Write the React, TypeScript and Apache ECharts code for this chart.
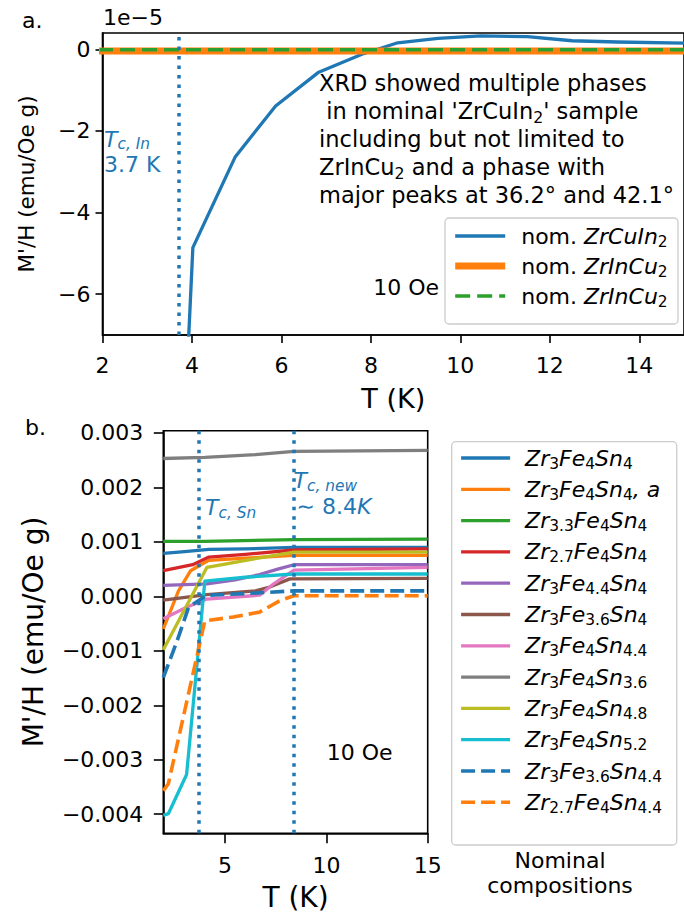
import { useEffect, useRef } from 'react';
import * as echarts from 'echarts';

const FONT = 'DejaVu Sans';
const FONT_CSS = "'DejaVu Sans', sans-serif";
const BLUE = '#1f77b4';
const ORANGE = '#ff7f0e';
const GREEN = '#2ca02c';
const RED = '#d62728';
const PURPLE = '#9467bd';
const BROWN = '#8c564b';
const PINK = '#e377c2';
const GRAY = '#7f7f7f';
const OLIVE = '#bcbd22';
const CYAN = '#17becf';

// ---- Panel a: M'/H in units of 1e-5 emu/(Oe g) versus T (K) ----
const A_T_CUIN = [3.8, 4.02, 4.97, 5.87, 6.82, 7.8, 8.6, 9.5, 10.46, 11.5, 12.5, 13.5, 15.0];
const A_M_CUIN = [-10.0, -4.86, -2.63, -1.39, -0.57, -0.12, 0.16, 0.27, 0.33, 0.31, 0.21, 0.18, 0.15];
const A_T_INCU = [1.9, 3, 4, 5, 6, 7, 8, 9, 10, 11, 12, 13, 14, 15];
const A_M_INCU_1 = [-0.04, -0.04, -0.04, -0.04, -0.04, -0.04, -0.04, -0.04, -0.04, -0.04, -0.04, -0.04, -0.04, -0.04];
const A_M_INCU_2 = [-0.01, -0.01, -0.01, -0.01, -0.01, -0.01, -0.01, -0.01, -0.01, -0.01, -0.01, -0.01, -0.01, -0.01];
const A_X_TICKS = [2, 4, 6, 8, 10, 12, 14];
const A_Y_TICKS = [-6, -4, -2, 0];
const A_TC_IN = 3.7;

// ---- Panel b: M'/H (emu/(Oe g)) versus T (K), [T, value] pairs ----
const B_ZR3FE4SN4 = [[1.95, 0.00079], [3.0, 0.00082], [4.2, 0.00086], [6.0, 0.00087], [8.4, 0.0009], [15, 0.0009]];
const B_ZR3FE4SN4_A = [[1.95, -0.0006], [2.7, 0.0001], [3.3, 0.00047], [3.8, 0.00058], [4.2, 0.00066], [6.0, 0.0007], [8.4, 0.00075], [15, 0.00075]];
const B_ZR33FE4SN4 = [[1.95, 0.00101], [4.0, 0.00101], [8.4, 0.00104], [15, 0.00105]];
const B_ZR27FE4SN4 = [[1.95, 0.00047], [3.4, 0.00058], [4.2, 0.00072], [6.0, 0.00077], [8.4, 0.00085], [15, 0.00087]];
const B_ZR3FE44SN4 = [[1.95, 0.0002], [4.1, 0.00023], [5.5, 0.0003], [6.7, 0.0004], [7.6, 0.0005], [8.4, 0.00058], [15, 0.00058]];
const B_ZR3FE36SN4 = [[1.95, -0.00007], [4.1, 0.00003], [6.5, 0.0001], [7.2, 0.00017], [8.2, 0.00032], [15, 0.00033]];
const B_ZR3FE4SN44 = [[1.95, -0.00041], [3.1, -0.0002], [4.1, -0.00005], [6.7, 0.00002], [7.4, 0.00023], [8.4, 0.00048], [15, 0.00053]];
const B_ZR3FE4SN36 = [[1.95, 0.00253], [4.0, 0.00255], [6.5, 0.0026], [8.4, 0.00266], [15, 0.00268]];
const B_ZR3FE4SN48 = [[1.95, -0.00098], [4.1, 0.00053], [6.3, 0.00068], [8.4, 0.00081], [15, 0.00081]];
const B_ZR3FE4SN52 = [[1.95, -0.00402], [2.2, -0.00399], [3.1, -0.00327], [4.0, 0.00028], [6.0, 0.00035], [8.4, 0.00041], [15, 0.00041]];
const B_ZR3FE36SN44 = [[1.95, -0.00149], [2.6, -0.00085], [3.2, -0.0002], [4.1, 0.00002], [6.0, 0.00005], [8.4, 0.0001], [15, 0.0001]];
const B_ZR27FE4SN44 = [[1.95, -0.00357], [2.2, -0.00344], [4.0, -0.00045], [5.4, -0.00038], [6.7, -0.00029], [7.7, -0.00008], [8.4, 0.00001], [15, 0.00001]];
const B_X_TICKS = [5, 10, 15];
const B_Y_TICKS = [-4, -3, -2, -1, 0, 1, 2, 3].map((k) => k / 1000);
const B_TC_SN = 3.7;
const B_TC_NEW = 8.4;

const SOLID_W = 3.3;
const DASH_W = 3.6;
const DASH = [14, 6];

// legend rich text (ECharts text style: "color")
const RICH = {
  n: { fontSize: 22, fontFamily: FONT, color: '#000', lineHeight: 26 },
  i: { fontSize: 22, fontFamily: FONT, fontStyle: 'italic', color: '#000', lineHeight: 26 },
  s: { fontSize: 15.4, fontFamily: FONT, color: '#000', lineHeight: 12.4, verticalAlign: 'bottom' },
};

// chemical formula -> rich text with italic elements and upright subscripts
function formulaRich(formula: string): string {
  const [core, suffix] = formula.split(', ');
  let out = '';
  core.replace(/([A-Z][a-z]?)([\d.]*)/g, (_m: string, el: string, n: string) => {
    out += `{i|${el}}` + (n ? `{s|${n}}` : '');
    return '';
  });
  if (suffix) out += `{i|, ${suffix}}`;
  return out;
}

const A_LABELS: Record<string, string> = {
  'ZrCuIn2': '{n|nom. }' + formulaRich('ZrCuIn2'),
  'ZrInCu2 (1)': '{n|nom. }' + formulaRich('ZrInCu2'),
  'ZrInCu2 (2)': '{n|nom. }' + formulaRich('ZrInCu2'),
};

const lineSeries = (name: string, data: number[][], color: string, width: number, grid: number, dash?: number[]) => ({
  type: 'line',
  name,
  data,
  xAxisIndex: grid,
  yAxisIndex: grid,
  symbol: 'none',
  showSymbol: false,
  silent: true,
  itemStyle: { color },
  lineStyle: { color, width, type: dash ?? 'solid', cap: 'butt', join: 'round' },
});

const dotted = (xs: number[]) => ({
  silent: true,
  symbol: ['none', 'none'],
  label: { show: false },
  lineStyle: { color: BLUE, width: 3.5, type: [3.5, 6], cap: 'butt' },
  data: xs.map((x) => ({ xAxis: x })),
});

const pairs = (xs: number[], ys: number[]) => xs.map((x, i) => [x, ys[i]]);
const minus = (s: string) => s.replace('-', '\u2212');

const axisBase = (labelMargin: number, tickLen: number, ticks: number[], fmt: (v: number) => string) => ({
  type: 'value',
  axisLine: { show: true, onZero: false, lineStyle: { color: '#000', width: 1.6 } },
  splitLine: { show: false },
  axisTick: { show: true, inside: false, length: tickLen, customValues: ticks, lineStyle: { color: '#000', width: 1.6 } },
  axisLabel: { color: '#000', fontSize: 22, fontFamily: FONT_CSS, margin: labelMargin, customValues: ticks, formatter: fmt },
});

const B_SERIES: [string, number[][], string, number[] | undefined][] = [
  ['Zr3Fe4Sn4', B_ZR3FE4SN4, BLUE, undefined],
  ['Zr3Fe4Sn4, a', B_ZR3FE4SN4_A, ORANGE, undefined],
  ['Zr3.3Fe4Sn4', B_ZR33FE4SN4, GREEN, undefined],
  ['Zr2.7Fe4Sn4', B_ZR27FE4SN4, RED, undefined],
  ['Zr3Fe4.4Sn4', B_ZR3FE44SN4, PURPLE, undefined],
  ['Zr3Fe3.6Sn4', B_ZR3FE36SN4, BROWN, undefined],
  ['Zr3Fe4Sn4.4', B_ZR3FE4SN44, PINK, undefined],
  ['Zr3Fe4Sn3.6', B_ZR3FE4SN36, GRAY, undefined],
  ['Zr3Fe4Sn4.8', B_ZR3FE4SN48, OLIVE, undefined],
  ['Zr3Fe4Sn5.2', B_ZR3FE4SN52, CYAN, undefined],
  ['Zr3Fe3.6Sn4.4', B_ZR3FE36SN44, BLUE, DASH],
  ['Zr2.7Fe4Sn4.4', B_ZR27FE4SN44, ORANGE, DASH],
];

const textEl = (x: number, y: number, style: Record<string, unknown>) => ({
  type: 'text',
  x,
  y,
  z: 10,
  silent: true,
  style: { fontFamily: FONT, fontSize: 22, fill: '#000', align: 'left', verticalAlign: 'middle', ...style },
});

// graphic rich text (zrender style: "fill")
const tcRich = (lh: number, subLh: number) => ({
  t: { fontSize: 22, fontFamily: FONT, fontStyle: 'italic', fill: BLUE, lineHeight: lh },
  u: { fontSize: 22, fontFamily: FONT, fill: BLUE, lineHeight: lh },
  p: { fontSize: 22, fontFamily: FONT, fill: BLUE, lineHeight: lh, padding: [0, 0, 0, 3] },
  c: { fontSize: 15.4, fontFamily: FONT, fontStyle: 'italic', fill: BLUE, lineHeight: subLh, verticalAlign: 'bottom' },
});

const NOTE_RICH = {
  n: { fontSize: 22.5, fontFamily: FONT, fill: '#000', lineHeight: 28.15 },
  s: { fontSize: 15.75, fontFamily: FONT, fill: '#000', lineHeight: 17, verticalAlign: 'bottom' },
};

const option = {
  animation: false,
  backgroundColor: '#fff',
  textStyle: { fontFamily: FONT },
  grid: [
    { left: 102.5, top: 33, width: 585, height: 302, show: true, borderColor: '#000', borderWidth: 1.6, backgroundColor: 'transparent' },
    { left: 163.3, top: 430.7, width: 264.4, height: 402.6, show: true, borderColor: '#000', borderWidth: 1.6, backgroundColor: 'transparent' },
  ],
  xAxis: [
    {
      ...axisBase(19, 8, A_X_TICKS, (v: number) => String(v)),
      gridIndex: 0, min: 2, max: 15,
      name: 'T (K)', nameLocation: 'middle', nameGap: 49.5,
      nameTextStyle: { fontSize: 27, color: '#000', fontFamily: FONT },
    },
    {
      ...axisBase(21, 10, B_X_TICKS, (v: number) => String(v)),
      gridIndex: 1, min: 1.95, max: 15,
      name: 'T (K)', nameLocation: 'middle', nameGap: 50,
      nameTextStyle: { fontSize: 28, color: '#000', fontFamily: FONT },
    },
  ],
  yAxis: [
    {
      ...axisBase(12, 7, A_Y_TICKS, (v: number) => (v === 0 ? '0' : minus(String(v)))),
      gridIndex: 0, min: -7, max: 0.4,
      name: "M'/H (emu/Oe g)", nameLocation: 'middle', nameRotate: 90, nameGap: 65.5,
      nameTextStyle: { fontSize: 21.5, color: '#000', fontFamily: FONT },
    },
    {
      ...axisBase(20, 9.5, B_Y_TICKS, (v: number) => minus(v.toFixed(3))),
      gridIndex: 1, min: -0.00435, max: 0.00304,
      name: "M'/H (emu/Oe g)", nameLocation: 'middle', nameRotate: 90, nameGap: 116,
      nameTextStyle: { fontSize: 28, color: '#000', fontFamily: FONT },
    },
  ],
  legend: [
    {
      orient: 'vertical', left: 451.7, top: 225, padding: 0, itemGap: 6, itemWidth: 50, itemHeight: 14,
      selectedMode: false,
      data: [
        { name: 'ZrCuIn2', lineStyle: { width: SOLID_W } },
        { name: 'ZrInCu2 (1)', lineStyle: { width: 7 } },
        { name: 'ZrInCu2 (2)', lineStyle: { width: DASH_W } },
      ],
      itemStyle: { opacity: 0 },
      formatter: (name: string) => A_LABELS[name],
      textStyle: { padding: [0, 0, 0, 11], rich: RICH },
      z: 6,
    },
    {
      orient: 'vertical', left: 459.3, top: 447, padding: 0, itemGap: 7.3, itemWidth: 49, itemHeight: 14,
      selectedMode: false,
      data: B_SERIES.map((s) => ({ name: s[0], lineStyle: { width: s[3] ? DASH_W : SOLID_W } })),
      itemStyle: { opacity: 0 },
      formatter: (name: string) => formulaRich(name),
      textStyle: { padding: [0, 0, 0, 10], rich: RICH },
      z: 6,
    },
  ],
  series: [
    lineSeries('ZrCuIn2', pairs(A_T_CUIN, A_M_CUIN), BLUE, SOLID_W, 0),
    lineSeries('ZrInCu2 (1)', pairs(A_T_INCU, A_M_INCU_1), ORANGE, 7, 0),
    { ...lineSeries('ZrInCu2 (2)', pairs(A_T_INCU, A_M_INCU_2), GREEN, DASH_W, 0, [15, 7]), markLine: dotted([A_TC_IN]) },
    ...B_SERIES.map(([name, data, color, dash], i) => {
      const s: Record<string, unknown> = lineSeries(name, data, color, dash ? DASH_W : SOLID_W, 1, dash);
      if (i === B_SERIES.length - 1) s.markLine = dotted([B_TC_SN, B_TC_NEW]);
      return s;
    }),
  ],
  graphic: [
    // legend frames
    { type: 'rect', z: 3, silent: true, shape: { x: 445, y: 218, width: 233, height: 106, r: 4 }, style: { fill: 'rgba(255,255,255,0.8)', stroke: '#cccccc', lineWidth: 1.3 } },
    { type: 'rect', z: 3, silent: true, shape: { x: 451.7, y: 441.7, width: 225, height: 403.3, r: 4 }, style: { fill: 'rgba(255,255,255,0.8)', stroke: '#cccccc', lineWidth: 1.3 } },
    // panel a annotations
    textEl(22, 20.4, { text: 'a.' }),
    textEl(103, 17.4, { text: '1e\u22125' }),
    textEl(104, 126.6, { text: '{t|T}{c|c, In}\n{u|3.7 K}', rich: tcRich(25, 17), verticalAlign: 'top' }),
    textEl(319, 68.8, {
      verticalAlign: 'top',
      rich: NOTE_RICH,
      text: [
        '{n|XRD showed multiple phases}',
        "{n|\u00a0in nominal 'ZrCuIn}{s|2}{n|' sample}",
        '{n|including but not limited to}',
        '{n|ZrInCu}{s|2}{n| and a phase with}',
        '{n|major peaks at 36.2\u00b0 and 42.1\u00b0}',
      ].join('\n'),
    }),
    textEl(373.3, 287.4, { text: '10 Oe' }),
    // panel b annotations
    textEl(25, 427.4, { text: 'b.' }),
    textEl(205, 494.4, { text: '{t|T}{c|c, Sn}', rich: tcRich(26, 18), verticalAlign: 'top' }),
    textEl(293.5, 467.9, { text: '{t|T}{c|c, new}\n{p|\u223c 8.4}{t|K}', rich: tcRich(26, 18), verticalAlign: 'top' }),
    textEl(326.7, 752.4, { text: '10 Oe' }),
    textEl(560, 847.9, { text: 'Nominal\ncompositions', align: 'center', verticalAlign: 'top', lineHeight: 25 }),
  ],
};

export default function App() {
  const ref = useRef<HTMLDivElement>(null);
  useEffect(() => {
    const chart = echarts.init(ref.current as HTMLDivElement, undefined, { renderer: 'svg', width: 684, height: 915 });
    chart.setOption(option as echarts.EChartsOption);
    return () => chart.dispose();
  }, []);
  return (
    <div
      ref={ref}
      style={{ position: 'absolute', left: 0, top: 0, width: 684, height: 915, background: '#fff' }}
    />
  );
}
